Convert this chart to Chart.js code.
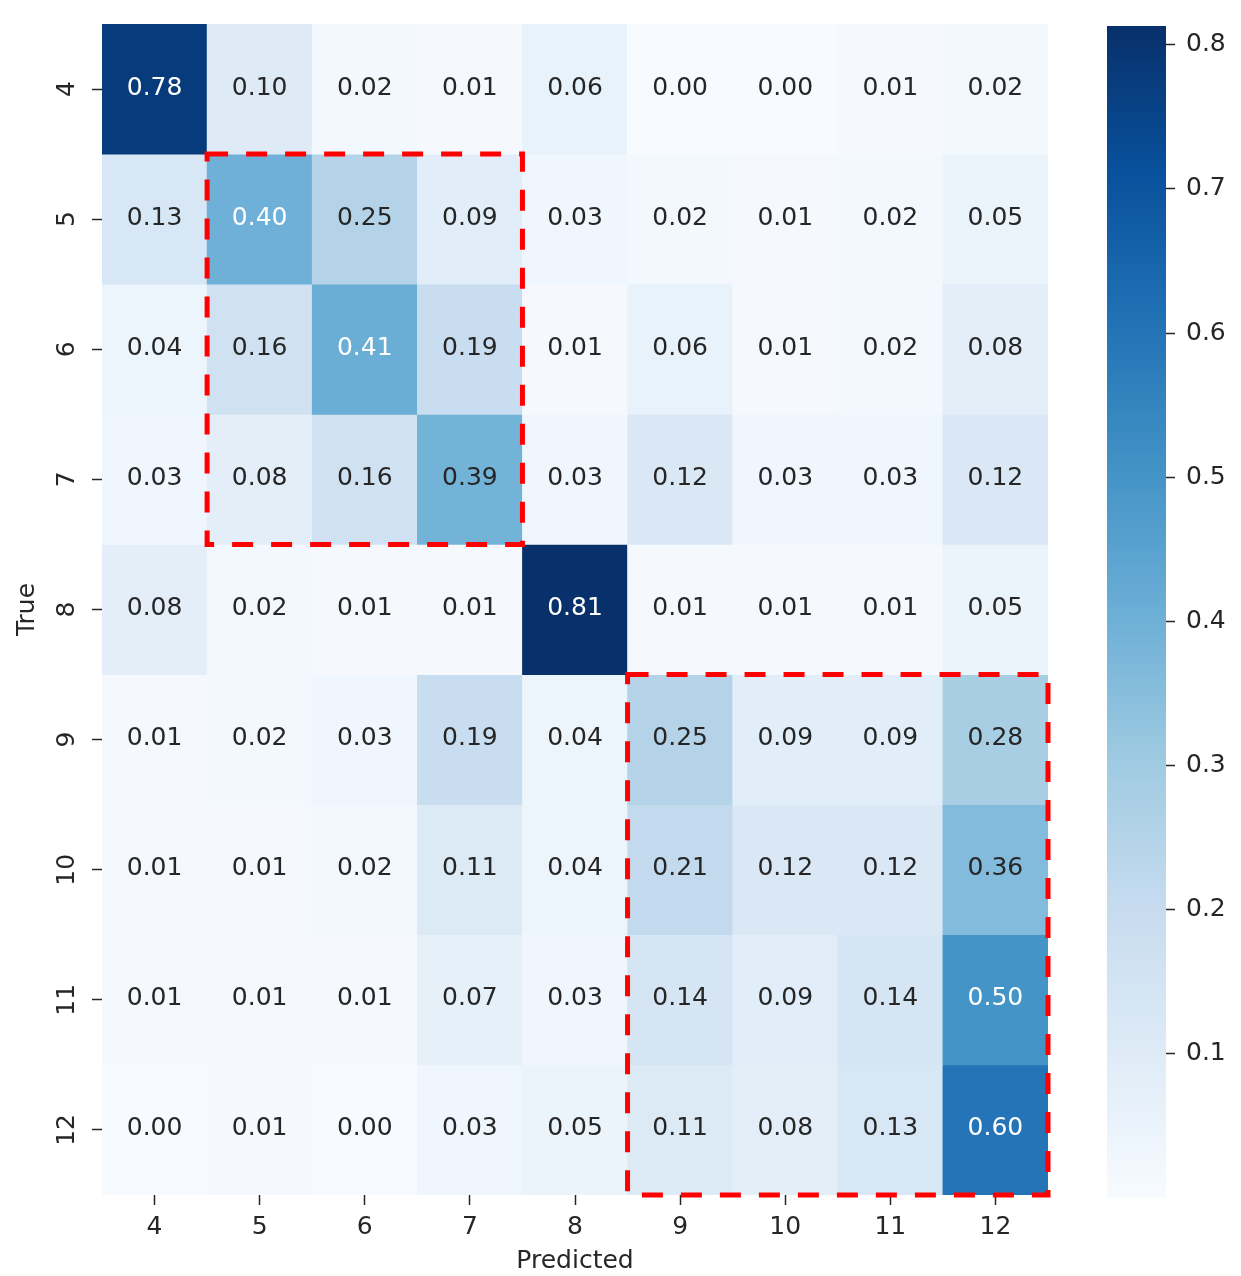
<!DOCTYPE html>
<html>
<head>
<meta charset="utf-8">
<script src="https://cdn.jsdelivr.net/npm/chart.js@4/dist/chart.umd.min.js"></script>
<style>
  html, body { margin: 0; padding: 0; background: #ffffff; }
  #wrap { position: relative; width: 1241px; height: 1276px; }
  #heat { position: absolute; left: 0; top: 0; }
  #cbar { position: absolute; left: 1090px; top: 0; }
</style>
</head>
<body>
<div id="wrap">
  <canvas id="heat" width="1241" height="1276"></canvas>
  <canvas id="cbar" width="151" height="1276"></canvas>
</div>
<script>
// Class labels on both axes
const predictedLabels = ['4', '5', '6', '7', '8', '9', '10', '11', '12'];
const trueLabels = ['4', '5', '6', '7', '8', '9', '10', '11', '12'];

// Normalised confusion matrix, one array per true class
const true4  = [0.78, 0.10, 0.02, 0.01, 0.06, 0.00, 0.00, 0.01, 0.02];
const true5  = [0.13, 0.40, 0.25, 0.09, 0.03, 0.02, 0.01, 0.02, 0.05];
const true6  = [0.04, 0.16, 0.41, 0.19, 0.01, 0.06, 0.01, 0.02, 0.08];
const true7  = [0.03, 0.08, 0.16, 0.39, 0.03, 0.12, 0.03, 0.03, 0.12];
const true8  = [0.08, 0.02, 0.01, 0.01, 0.81, 0.01, 0.01, 0.01, 0.05];
const true9  = [0.01, 0.02, 0.03, 0.19, 0.04, 0.25, 0.09, 0.09, 0.28];
const true10 = [0.01, 0.01, 0.02, 0.11, 0.04, 0.21, 0.12, 0.12, 0.36];
const true11 = [0.01, 0.01, 0.01, 0.07, 0.03, 0.14, 0.09, 0.14, 0.50];
const true12 = [0.00, 0.01, 0.00, 0.03, 0.05, 0.11, 0.08, 0.13, 0.60];
const matrixRows = [true4, true5, true6, true7, true8, true9, true10, true11, true12];

// Colour scale limits and colour-bar ticks
const colorMin = 0.0;
const colorMax = 0.813;
const colorbarTicks = [0.1, 0.2, 0.3, 0.4, 0.5, 0.6, 0.7, 0.8];

// Highlighted blocks (true-class range x predicted-class range)
const highlightBoxes = [
  { from: '5', to: '7' },
  { from: '9', to: '12' }
];

// ---- styling ----
const FONT = 'DejaVu Sans';
const TEXT_DARK = '#262626';
const bluesStops = ['#f7fbff', '#deebf7', '#c6dbef', '#9ecae1', '#6baed6',
                    '#4292c6', '#2171b5', '#08519c', '#08306b'];

function hexToRgb(h) {
  return [parseInt(h.slice(1, 3), 16), parseInt(h.slice(3, 5), 16), parseInt(h.slice(5, 7), 16)];
}
const bluesRgb = bluesStops.map(hexToRgb);

function bluesAt(v) {
  let t = (v - colorMin) / (colorMax - colorMin);
  t = Math.max(0, Math.min(1, t));
  const pos = t * (bluesRgb.length - 1);
  const i = Math.min(bluesRgb.length - 2, Math.floor(pos));
  const f = pos - i;
  const a = bluesRgb[i], b = bluesRgb[i + 1];
  return [0, 1, 2].map(k => a[k] + (b[k] - a[k]) * f);
}
function rgbStr(c) {
  return 'rgb(' + c.map(x => Math.round(x)).join(',') + ')';
}
function luminance(c) {
  const lin = c.map(x => {
    const s = x / 255;
    return s <= 0.03928 ? s / 12.92 : Math.pow((s + 0.055) / 1.055, 2.4);
  });
  return 0.2126 * lin[0] + 0.7152 * lin[1] + 0.0722 * lin[2];
}

Chart.defaults.font.family = FONT;
Chart.defaults.font.size = 25;
Chart.defaults.color = TEXT_DARK;

// One dataset per true class: floating bars spanning that row
const datasets = matrixRows.map((row, r) => ({
  label: trueLabels[r],
  data: row.map(() => [r - 0.5, r + 0.5]),
  backgroundColor: row.map(v => rgbStr(bluesAt(v))),
  borderWidth: 0,
  borderSkipped: false,
  grouped: false,
  barPercentage: 1.0,
  categoryPercentage: 1.0
}));

// Cell value annotations
const cellLabels = {
  id: 'cellLabels',
  afterDatasetsDraw(chart) {
    const { ctx, scales: { x, y } } = chart;
    ctx.save();
    ctx.font = '25px "' + FONT + '"';
    ctx.textAlign = 'center';
    ctx.textBaseline = 'middle';
    matrixRows.forEach((row, r) => {
      row.forEach((v, c) => {
        const col = bluesAt(v);
        ctx.fillStyle = luminance(col) > 0.40 ? TEXT_DARK : '#ffffff';
        ctx.fillText(v.toFixed(2), x.getPixelForValue(c), y.getPixelForValue(r) - 1);
      });
    });
    ctx.restore();
  }
};

// Red dashed outlines around the highlighted blocks
const blockOutlines = {
  id: 'blockOutlines',
  afterDraw(chart) {
    const { ctx, scales: { x, y } } = chart;
    const cw = x.getPixelForValue(1) - x.getPixelForValue(0);
    const ch = y.getPixelForValue(1) - y.getPixelForValue(0);
    ctx.save();
    ctx.strokeStyle = '#ff0000';
    ctx.lineWidth = 5;
    ctx.setLineDash([21, 18]);
    highlightBoxes.forEach(b => {
      const c0 = predictedLabels.indexOf(b.from), c1 = predictedLabels.indexOf(b.to);
      const r0 = trueLabels.indexOf(b.from), r1 = trueLabels.indexOf(b.to);
      const left = x.getPixelForValue(c0) - cw / 2;
      const right = x.getPixelForValue(c1) + cw / 2;
      const top = y.getPixelForValue(r0) - ch / 2;
      const bottom = y.getPixelForValue(r1) + ch / 2;
      ctx.beginPath();
      ctx.moveTo(left, top);
      ctx.lineTo(right, top);
      ctx.lineTo(right, bottom);
      ctx.lineTo(left, bottom);
      ctx.closePath();
      ctx.stroke();
    });
    ctx.restore();
  }
};

new Chart(document.getElementById('heat'), {
  type: 'bar',
  data: { labels: predictedLabels, datasets },
  options: {
    responsive: false,
    devicePixelRatio: 1,
    animation: false,
    layout: { padding: { left: 0, right: 193, top: 21, bottom: 0 } },
    plugins: { legend: { display: false }, tooltip: { enabled: false } },
    scales: {
      x: {
        type: 'category',
        offset: true,
        grid: { display: true, offset: false, drawOnChartArea: false, drawTicks: true, tickLength: 10, tickWidth: 1.5, tickColor: TEXT_DARK },
        border: { display: false },
        ticks: { padding: 7, color: TEXT_DARK, font: { size: 25 }, maxRotation: 0, minRotation: 0 },
        title: { display: true, text: 'Predicted', color: TEXT_DARK, font: { size: 25 }, padding: { top: 0, bottom: 0 } },
        afterFit(scale) { scale.height = 81; }
      },
      y: {
        type: 'linear',
        reverse: true,
        min: -0.5,
        max: trueLabels.length - 0.5,
        afterBuildTicks(scale) { scale.ticks = trueLabels.map((_, i) => ({ value: i })); },
        grid: { display: true, drawOnChartArea: false, drawTicks: true, tickLength: 10, tickWidth: 1.5, tickColor: TEXT_DARK },
        border: { display: false },
        ticks: {
          padding: 9, color: TEXT_DARK, font: { size: 25 },
          minRotation: 90, maxRotation: 90, crossAlign: 'center',
          callback: v => trueLabels[v]
        },
        title: { display: true, text: 'True', color: TEXT_DARK, font: { size: 25 }, padding: { top: 12, bottom: 0 } },
        afterFit(scale) { scale.width = 102; }
      }
    }
  },
  plugins: [cellLabels, blockOutlines]
});

// Colour bar: one floating bar from colorMin to colorMax filled with the Blues ramp
new Chart(document.getElementById('cbar'), {
  type: 'bar',
  data: {
    labels: [''],
    datasets: [{
      data: [[colorMin, colorMax]],
      borderWidth: 0,
      borderSkipped: false,
      barPercentage: 1.0,
      categoryPercentage: 1.0,
      backgroundColor(context) {
        const chart = context.chart;
        const ys = chart.scales.y;
        if (!chart.chartArea || !ys) return bluesStops[0];
        const g = chart.ctx.createLinearGradient(0, ys.getPixelForValue(colorMin), 0, ys.getPixelForValue(colorMax));
        bluesStops.forEach((c, i) => g.addColorStop(i / (bluesStops.length - 1), c));
        return g;
      }
    }]
  },
  options: {
    responsive: false,
    devicePixelRatio: 1,
    animation: false,
    layout: { padding: { left: 17, right: 0, top: 21, bottom: 78 } },
    plugins: { legend: { display: false }, tooltip: { enabled: false } },
    scales: {
      x: { display: false },
      y: {
        position: 'right',
        min: colorMin,
        max: colorMax,
        afterBuildTicks(scale) { scale.ticks = colorbarTicks.map(v => ({ value: v })); },
        grid: { display: true, drawOnChartArea: false, drawTicks: true, tickLength: 9, tickWidth: 1.5, tickColor: TEXT_DARK },
        border: { display: false },
        ticks: { padding: 11, color: TEXT_DARK, font: { size: 25 }, callback: v => v.toFixed(1) },
        afterFit(scale) { scale.width = 75; }
      }
    }
  }
});
</script>
</body>
</html>
